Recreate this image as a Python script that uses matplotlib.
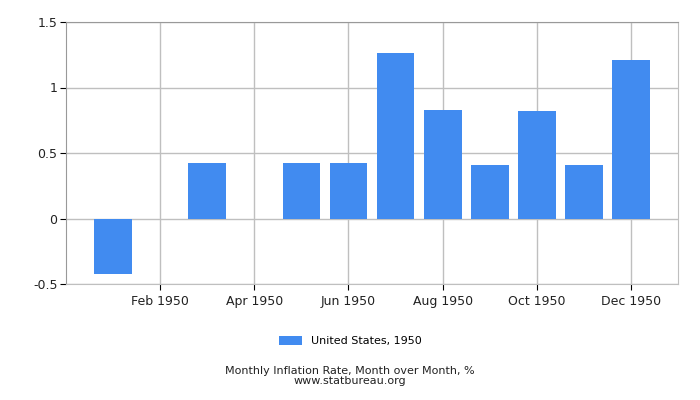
import matplotlib
matplotlib.use("Agg")
import matplotlib.pyplot as plt
import numpy as np

months = ["Jan 1950", "Feb 1950", "Mar 1950", "Apr 1950", "May 1950", "Jun 1950",
          "Jul 1950", "Aug 1950", "Sep 1950", "Oct 1950", "Nov 1950", "Dec 1950"]
values = [-0.42, 0.0, 0.42, 0.0, 0.42, 0.42, 1.26, 0.83, 0.41, 0.82, 0.41, 1.21]
yticks = [-0.5, 0, 0.5, 1, 1.5]
ytick_labels = ["-0.5", "0", "0.5", "1", "1.5"]
series_name = "United States, 1950"

fig = plt.figure(figsize=(7, 4), dpi=100)
ax = fig.add_axes([0.094, 0.29, 0.875, 0.655])

x = np.arange(len(months))
ax.bar(x, values, width=0.8, color="#418BF0", zorder=3, label=series_name)

ax.set_xlim(-1, len(months))
ax.set_ylim(-0.5, 1.5)
ax.set_yticks(yticks)
ax.set_yticklabels(ytick_labels)
ax.set_xticks(x[1::2])
ax.set_xticklabels(months[1::2])

ax.grid(True, color="#bfbfbf", linewidth=1, zorder=0)
for side in ["top", "right", "bottom", "left"]:
    ax.spines[side].set_color("#bfbfbf")
ax.spines["top"].set_color("#999999")
ax.spines["left"].set_color("#999999")
ax.tick_params(axis="both", labelsize=9, length=4, color="black", labelcolor="#222222")
ax.tick_params(axis="y", pad=2)
ax.tick_params(axis="x", pad=4)

fig.legend(loc="center", bbox_to_anchor=(0.5, 0.148), frameon=False, fontsize=8,
           handlelength=2.1, handleheight=0.9)
fig.text(0.5, 0.073, "Monthly Inflation Rate, Month over Month, %", ha="center",
         va="center", fontsize=8, color="#222222")
fig.text(0.5, 0.047, "www.statbureau.org", ha="center", va="center",
         fontsize=8, color="#222222")

fig.savefig("out.png", dpi=100)
